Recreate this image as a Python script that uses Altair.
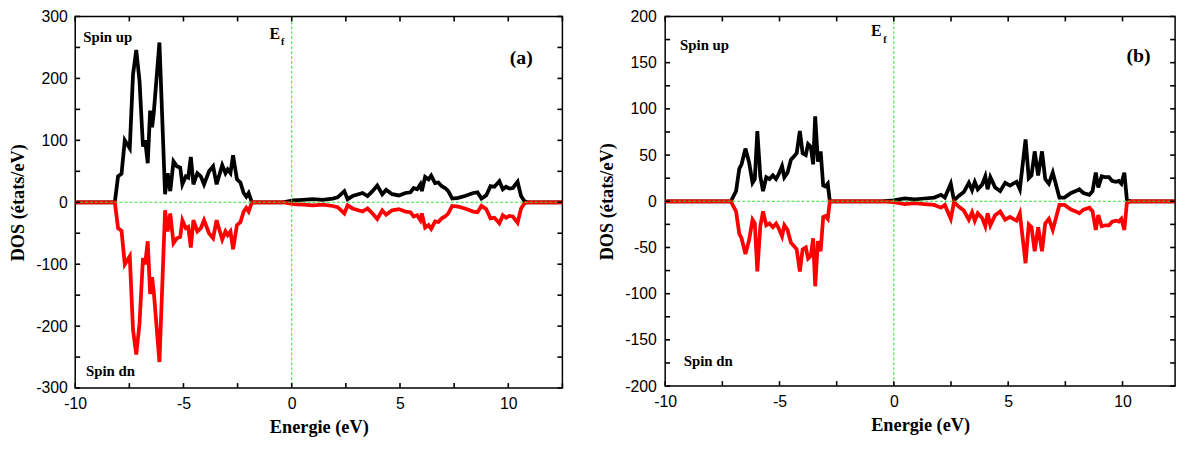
import altair as alt
import pandas as pd

# ---------------- data ----------------
# Panel (a)
E_a = [-10.0, -8.17, -8.02, -7.86, -7.71, -7.48, -7.33, -7.18, -7.03, -6.87, -6.77, -6.65,
       -6.54, -6.45, -6.37, -6.11, -5.85, -5.73, -5.61, -5.46, -5.30, -5.15, -5.05, -4.89,
       -4.78, -4.66, -4.54, -4.36, -4.20, -4.05, -3.82, -3.63, -3.47, -3.21, -3.06, -2.96,
       -2.83, -2.71, -2.53, -2.37, -2.22, -2.10, -1.99, -1.84, -0.40, 0.06, 0.52, 0.98,
       1.43, 1.89, 2.12, 2.43, 2.58, 2.81, 3.27, 3.50, 3.73, 3.95, 4.18, 4.36, 4.64, 4.95,
       5.25, 5.48, 5.63, 5.79, 5.94, 6.01, 6.16, 6.32, 6.44, 6.62, 6.77, 6.93, 7.08, 7.23,
       7.41, 7.69, 8.00, 8.38, 8.58, 8.76, 8.98, 9.18, 9.36, 9.59, 9.75, 9.90, 10.05, 10.21,
       10.43, 10.59, 10.74, 10.89, 12.5]
UP_a = [0, 0, 42, 46, 100, 87, 206, 246, 196, 90, 100, 63, 148, 121, 145, 258, 13, 47, 18,
        66, 58, 56, 29, 42, 40, 73, 29, 47, 42, 29, 50, 58, 29, 60, 47, 53, 47, 76, 37, 32,
        15, 9, 15, 0, 0, 3, 4, 5, 4, 6, 8, 18, 5, 10, 15, 10, 18, 27, 13, 20, 13, 11, 15, 16,
        23, 21, 29, 18, 41, 37, 43, 31, 32, 26, 23, 18, 6, 7, 10, 15, 16, 6, 11, 26, 25, 34,
        21, 25, 22, 23, 33, 10, 2, 0, 0]
DN_a = [0, 0, -42, -46, -100, -87, -206, -246, -196, -90, -100, -63, -148, -121, -145, -258,
        -13, -47, -18, -66, -58, -56, -29, -42, -40, -73, -29, -47, -42, -29, -50, -58, -29,
        -60, -47, -53, -47, -76, -37, -32, -15, -9, -15, 0, 0, -3, -4, -5, -4, -6, -8, -18,
        -5, -10, -15, -10, -18, -27, -13, -20, -13, -11, -15, -16, -23, -21, -29, -18, -41,
        -37, -43, -31, -32, -26, -23, -18, -6, -7, -10, -15, -16, -6, -11, -26, -25, -34,
        -21, -25, -22, -23, -33, -10, -2, 0, 0]

# Panel (b)
E_b = [-10.0, -7.13, -6.90, -6.76, -6.66, -6.49, -6.33, -6.18, -6.08, -5.97, -5.84, -5.72,
       -5.58, -5.44, -5.29, -5.15, -5.04, -4.89, -4.79, -4.65, -4.50, -4.35, -4.25, -4.11,
       -3.99, -3.85, -3.75, -3.63, -3.53, -3.44, -3.32, -3.20, -3.09, -2.99, -2.89, -2.80,
       -0.54, 0.0, 0.47, 0.91, 1.34, 1.77, 2.06, 2.23, 2.49, 2.63, 2.85, 3.06, 3.28, 3.42,
       3.54, 3.67, 3.86, 4.00, 4.10, 4.22, 4.43, 4.65, 4.87, 5.08, 5.22, 5.37, 5.51, 5.76,
       5.90, 6.02, 6.16, 6.31, 6.48, 6.62, 6.78, 6.95, 7.24, 7.46, 7.75, 7.96, 8.11, 8.29,
       8.55, 8.69, 8.83, 8.94, 9.09, 9.26, 9.41, 9.55, 9.72, 9.84, 9.95, 10.08, 10.19,
       10.34, 12.3]
UP_b = [0, 0, 11, 35, 40, 57, 42, 20, 24, 76, 27, 11, 26, 24, 28, 24, 29, 38, 26, 31, 45, 49,
        52, 76, 52, 50, 62, 59, 40, 92, 43, 54, 17, 16, 19, 0, 0, 1, 3, 2, 3, 4, 7, 4, 19, 1,
        6, 10, 20, 12, 21, 13, 18, 27, 13, 26, 15, 11, 20, 17, 19, 21, 13, 67, 25, 28, 54, 28,
        54, 24, 19, 31, 4, 4, 9, 11, 13, 9, 7, 11, 31, 15, 27, 26, 26, 22, 21, 22, 19, 31, 2,
        0, 0]
DN_b = [0, 0, -11, -35, -40, -57, -42, -20, -24, -76, -27, -11, -26, -24, -28, -24, -29, -38,
        -26, -31, -45, -49, -52, -76, -52, -50, -62, -59, -40, -92, -43, -54, -17, -16, -19,
        0, 0, -1, -3, -2, -3, -4, -7, -4, -19, -1, -6, -10, -20, -12, -21, -13, -18, -27, -13,
        -26, -15, -11, -20, -17, -19, -21, -13, -67, -25, -28, -54, -28, -54, -24, -19, -31,
        -4, -4, -9, -11, -13, -9, -7, -11, -31, -15, -27, -26, -26, -22, -21, -22, -19, -31,
        -2, 0, 0]

# tick values (major + minor)
XTICKS_A = [-10, -7.5, -5, -2.5, 0, 2.5, 5, 7.5, 10, 12.5]
XTICKS_B = [-10, -7.5, -5, -2.5, 0, 2.5, 5, 7.5, 10]
YTICKS_A = [-300, -250, -200, -150, -100, -50, 0, 50, 100, 150, 200, 250, 300]
YTICKS_B = [-200, -175, -150, -125, -100, -75, -50, -25, 0, 25, 50, 75, 100, 125, 150, 175, 200]

# annotations (label, x, y)
LABELS_A = {"spin": [("Spin up", -9.63, 266), ("Spin dn", -9.5, -272)],
            "E": (-1.03, 272), "f": (-0.49, 258), "tag": ("(a)", 10.6, 233)}
LABELS_B = {"spin": [("Spin up", -9.35, 169), ("Spin dn", -9.19, -173)],
            "E": (-1.0, 184), "f": (-0.46, 175), "tag": ("(b)", 10.7, 157)}

GREEN = "#33dd33"
SANS = "Liberation Sans"
SERIF = "Liberation Serif"
TICK_PX = 5  # tick length in pixels


def label_axis(orient, values, step, title, pad, tpad):
    return alt.Axis(
        orient=orient, values=values, domain=False, grid=False, ticks=False,
        labelFlush=False,
        labelExpr=f"datum.value % {step} == 0 ? '' + datum.value : ''",
        labelFont=SANS, labelFontSize=16, labelColor="black", labelPadding=pad,
        title=title, titleFont=SERIF, titleFontWeight="bold", titleFontSize=18.5,
        titleColor="black", titlePadding=tpad)


def panel(E, up, dn, xmin, xmax, ylim, xt, yt, ystep, labels, w, h, ypad):
    xs = alt.Scale(domain=[xmin, xmax], nice=False, zero=False)
    ys = alt.Scale(domain=[-ylim, ylim], nice=False, zero=False)
    xa = label_axis("bottom", xt, 5, "Energie (eV)", 8, 6)
    ya = label_axis("left", yt, ystep, "DOS (états/eV)", ypad, 8)

    def X(f):
        return alt.X(f, scale=xs, axis=xa)

    def Y(f):
        return alt.Y(f, scale=ys, axis=ya)

    df = pd.DataFrame({"E": E, "up": up, "dn": dn})
    up_line = alt.Chart(df).mark_line(color="black", strokeWidth=3.8).encode(
        x=X("E:Q"), y=Y("up:Q"))
    dn_line = alt.Chart(df).mark_line(color="#ff0000", strokeWidth=3.8).encode(
        x=X("E:Q"), y=Y("dn:Q"))

    zero = pd.DataFrame({"v": [0]})
    hrule = alt.Chart(zero).mark_rule(color=GREEN, strokeDash=[3, 2], strokeWidth=1).encode(
        y=Y("v:Q"))
    vrule = alt.Chart(zero).mark_rule(color=GREEN, strokeDash=[3, 2], strokeWidth=1).encode(
        x=X("v:Q"))

    # inward ticks on all four sides, drawn as short two-point line segments
    dy = TICK_PX * (2 * ylim) / h          # tick length in y data units
    dx = TICK_PX * (xmax - xmin) / w       # tick length in x data units
    tx, ty, tid = [], [], []
    k = 0
    for v in xt:
        for (y0, y1) in ((-ylim, -ylim + dy), (ylim, ylim - dy)):
            tx += [v, v]
            ty += [y0, y1]
            tid += [k, k]
            k += 1
    for v in yt:
        for (x0, x1) in ((xmin, xmin + dx), (xmax, xmax - dx)):
            tx += [x0, x1]
            ty += [v, v]
            tid += [k, k]
            k += 1
    tdf = pd.DataFrame({"tx": tx, "ty": ty, "id": tid})
    ticks = alt.Chart(tdf).mark_line(color="black", strokeWidth=1.6).encode(
        x=X("tx:Q"), y=Y("ty:Q"), detail="id:N")

    def text_layer(rows, size, align):
        d = pd.DataFrame({"t": [r[0] for r in rows], "x": [r[1] for r in rows],
                          "y": [r[2] for r in rows]})
        return alt.Chart(d).mark_text(
            align=align, baseline="middle", font=SERIF, fontWeight="bold", fontSize=size,
            color="black").encode(x=X("x:Q"), y=Y("y:Q"), text="t:N")

    spin = text_layer(labels["spin"], 15, "left")
    e_txt = text_layer([("E",) + labels["E"]], 16, "left")
    f_txt = text_layer([("f",) + labels["f"]], 10, "left")
    tag_txt = text_layer([labels["tag"]], 20, "center")

    return alt.layer(up_line, dn_line, hrule, vrule, ticks,
                     spin, e_txt, f_txt, tag_txt).properties(width=w, height=h)


left = panel(E_a, UP_a, DN_a, -10, 12.5, 300, XTICKS_A, YTICKS_A, 100, LABELS_A, 493, 376, 8)
right = panel(E_b, UP_b, DN_b, -10, 12.3, 200, XTICKS_B, YTICKS_B, 50, LABELS_B, 516, 374, 9)

chart = alt.hconcat(left, right, spacing=26).properties(
    padding={"left": 0, "top": -3, "right": 0, "bottom": 0},
    background="white",
).configure_view(stroke="black", strokeWidth=1.5)

chart.save("out.html", embed_options={"renderer": "svg", "actions": False})
